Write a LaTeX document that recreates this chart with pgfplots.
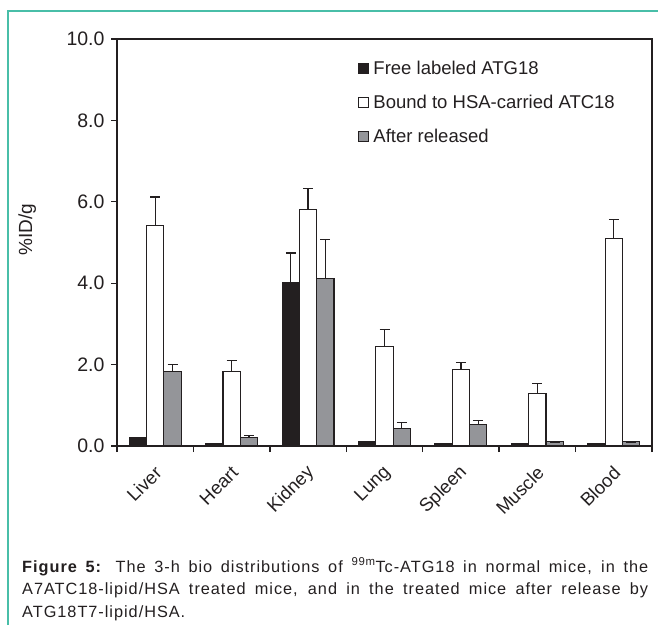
\documentclass[border=0pt]{standalone}
\usepackage{fontspec}
\setmainfont{Liberation Sans}
\newfontfamily\capfont[LetterSpace=6]{Liberation Sans}
\usepackage{pgfplots}
\pgfplotsset{compat=1.18}
\definecolor{teal1}{RGB}{72,190,168}
\definecolor{barblack}{RGB}{35,31,32}
\definecolor{bargray}{RGB}{148,149,153}
\definecolor{axcol}{RGB}{35,31,32}
\begin{document}
\begin{tikzpicture}
\path[use as bounding box] (0,0) rectangle (658pt,625pt);
\draw[teal1, line width=1.5pt] (8pt,0) -- (8pt,614pt) -- (658pt,614pt);
\begin{axis}[
  at={(117pt,179pt)}, anchor=south west,
  scale only axis, width=535pt, height=407pt,
  ymin=0, ymax=10, xmin=-0.5, xmax=6.5,
  ybar=0pt, bar width=17.3pt,
  axis line style={axcol, line width=1.3pt},
  xtick={0,...,6},
  xticklabels={Liver,Heart,Kidney,Lung,Spleen,Muscle,Blood},
  minor xtick={-0.5,0.5,...,6.5},
  ytick={0,2,...,10},
  tick align=outside,
  xtick pos=bottom, ytick pos=left,
  major tick length=6pt, minor tick length=6pt,
  major x tick style={draw=none},
  minor x tick style={axcol, line width=1.3pt},
  major y tick style={axcol, line width=1.3pt},
  /pgf/number format/.cd, fixed, fixed zerofill, precision=1, assume math mode=true,
  /pgfplots/.cd,
  yticklabel style={font=\fontsize{19.5}{22}\selectfont, text=axcol, xshift=-3pt},
  xticklabel style={xshift=4pt, yshift=-17pt, rotate=45, anchor=east, font=\fontsize{18.5}{21}\selectfont, text=axcol, inner sep=1pt},
  ylabel={\%ID/g},
  ylabel style={at={(axis description cs:-0.168,0.531)}, anchor=center, rotate=0, font=\fontsize{19}{21}\selectfont, text=axcol},
  legend style={at={(axis description cs:0.451,0.956)}, anchor=north west, draw=none, fill=none,
    font=\fontsize{18.5}{21}\selectfont, row sep=15pt, inner xsep=0pt, cells={anchor=west}, text=axcol},
  error bars/y dir=plus, error bars/y explicit,
  error bars/error bar style={axcol, line width=1.3pt},
  error bars/error mark options={axcol, line width=1.3pt, mark size=5pt, rotate=90},
]
\addplot[fill=barblack, draw=axcol, line width=1.1pt,
  legend image code/.code={\draw[fill=barblack, draw=axcol, line width=0.9pt] (0pt,-5pt) rectangle (10pt,5pt); \path (12pt,0pt);}]
  coordinates {
  (0,0.20) +- (0,0)
  (1,0.05) +- (0,0)
  (2,4.02) +- (0,0.72)
  (3,0.10) +- (0,0)
  (4,0.05) +- (0,0)
  (5,0.05) +- (0,0)
  (6,0.05) +- (0,0)
};
\addlegendentry{Free labeled ATG18}
\addplot[fill=white, draw=axcol, line width=1.1pt,
  legend image code/.code={\draw[fill=white, draw=axcol, line width=0.9pt] (0pt,-5pt) rectangle (10pt,5pt); \path (12pt,0pt);}]
  coordinates {
  (0,5.42) +- (0,0.70)
  (1,1.83) +- (0,0.27)
  (2,5.80) +- (0,0.52)
  (3,2.44) +- (0,0.43)
  (4,1.87) +- (0,0.19)
  (5,1.29) +- (0,0.25)
  (6,5.09) +- (0,0.47)
};
\addlegendentry{Bound to HSA-carried ATC18}
\addplot[fill=bargray, draw=axcol, line width=1.1pt,
  legend image code/.code={\draw[fill=bargray, draw=axcol, line width=0.9pt] (0pt,-5pt) rectangle (10pt,5pt); \path (12pt,0pt);}]
  coordinates {
  (0,1.83) +- (0,0.18)
  (1,0.20) +- (0,0.05)
  (2,4.12) +- (0,0.96)
  (3,0.44) +- (0,0.14)
  (4,0.53) +- (0,0.10)
  (5,0.10) +- (0,0)
  (6,0.10) +- (0,0)
};
\addlegendentry{After released}
\end{axis}
\node[anchor=base west, inner sep=0pt, text=axcol] at (22pt,53pt) {\parbox[t]{626pt}{\capfont\fontsize{16.3}{22.5}\selectfont \textbf{Figure 5:} The 3-h bio distributions of \textsuperscript{99m}Tc-ATG18 in normal mice, in the\linebreak A7ATC18-lipid/HSA treated mice, and in the treated mice after release by\linebreak ATG18T7-lipid/HSA.}};
\end{tikzpicture}
\end{document}
